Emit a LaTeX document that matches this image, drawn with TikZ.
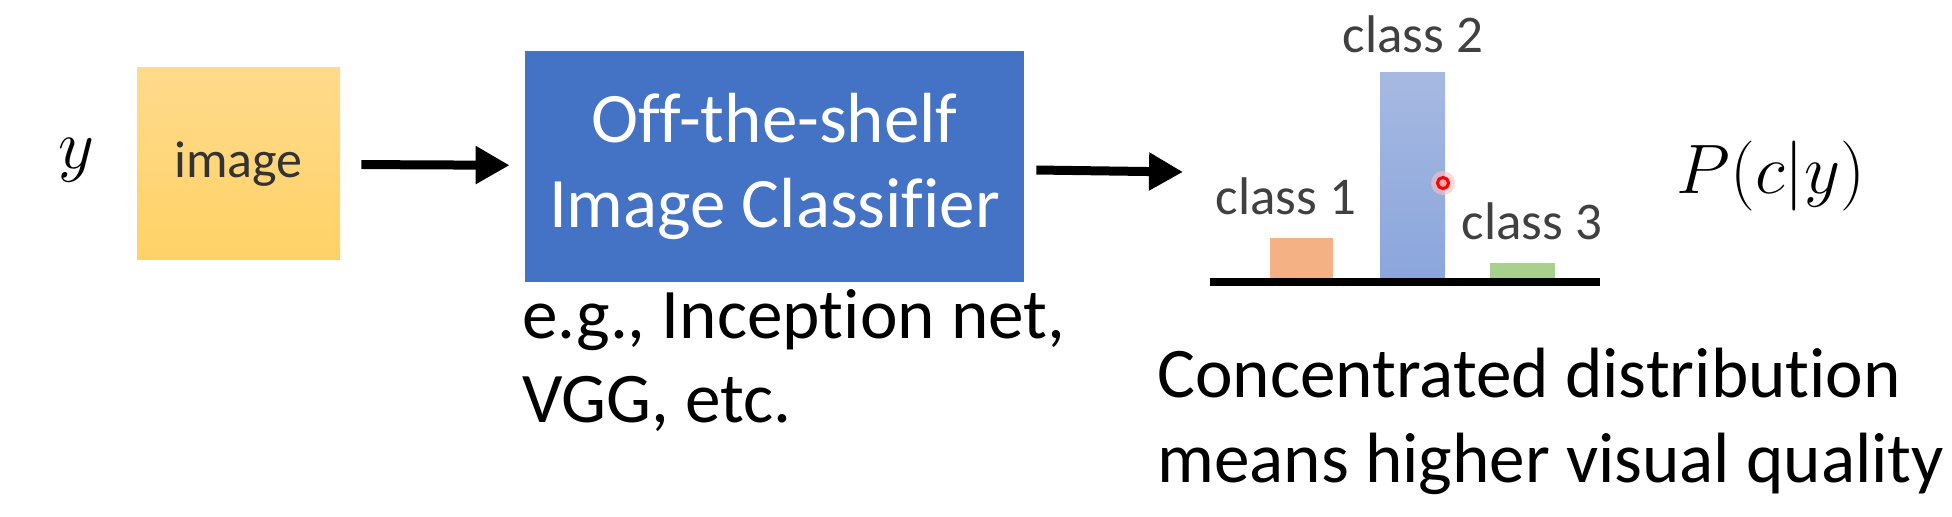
\documentclass[tikz,border=0pt]{standalone}
\usepackage{fix-cm}
\usepackage{fontspec}
\setmainfont{Carlito}[Ligatures=NoCommon]
\usetikzlibrary{arrows.meta}
\definecolor{boxblue}{HTML}{4472C4}
\definecolor{imgtop}{HTML}{FFDA8C}
\definecolor{imgbot}{HTML}{FFD266}
\definecolor{labelgray}{HTML}{404040}
\definecolor{barorange}{HTML}{F4B183}
\definecolor{barbluetop}{HTML}{A6B9E2}
\definecolor{barbluebot}{HTML}{8AA6DC}
\definecolor{bargreen}{HTML}{A9D18E}
\begin{document}
\begin{tikzpicture}[x=0.5pt,y=-0.5pt,
  bigtext/.style={font=\fontsize{35.6}{42.5}\selectfont},
  mathtext/.style={font=\fontsize{35}{40}\selectfont},
  flow/.style={line width=4.5pt,-{Triangle[length=17pt,width=18pt]}},
  classlabel/.style={font=\fontsize{26.5}{32}\selectfont,text=labelgray,inner sep=0pt}]
\useasboundingbox (0,0) rectangle (1952,517);
% input and classifier
\node[mathtext] (y) at (76,160) {$y$};
\node[top color=imgtop,bottom color=imgbot,minimum width=101.5pt,minimum height=96pt,
  font=\fontsize{26}{30}\selectfont,text=black!80] (img) at (238.5,164) {image};
\node[fill=boxblue,minimum width=249.5pt,minimum height=115.5pt,text=white,
  align=center,font=\fontsize{35.5}{42.5}\selectfont] (cls) at (774.5,166.5) {Off-the-shelf\\Image Classifier};
\coordinate (dist) at (1183,172);
\draw[flow,shorten <=10.5pt,shorten >=7.5pt] (img) -- (cls);
\draw[flow,shorten <=6pt] (cls) -- (dist);
\node[bigtext,anchor=base west,align=left,inner sep=0pt] (eg) at (522,423) {e.g., Inception net,\\VGG, etc.};
% distribution
\fill[barorange] (1270,238) rectangle (1333,282);
\shade[top color=barbluetop,bottom color=barbluebot] (1380,73) rectangle (1445,282);
\fill[bargreen] (1490,263) rectangle (1555,282);
\draw[line width=4pt] (1210,282) -- (1600,282);
\node[classlabel,anchor=base] (c2) at (1413,53) {class 2};
\node[classlabel,anchor=base] (c1) at (1286,215) {class 1};
\node[classlabel,anchor=base] (c3) at (1532,240) {class 3};
\fill[red!25,opacity=0.6] (1443,183) circle (6pt);
\draw[red,line width=1.5pt,fill=red!35] (1443,183) circle (2.8pt);
\node[mathtext] (prob) at (1771,176) {$P(c|y)$};
\node[bigtext,anchor=base west,align=left,inner sep=0pt] (note) at (1157,482) {Concentrated distribution\\means higher visual quality};
\end{tikzpicture}
\end{document}
